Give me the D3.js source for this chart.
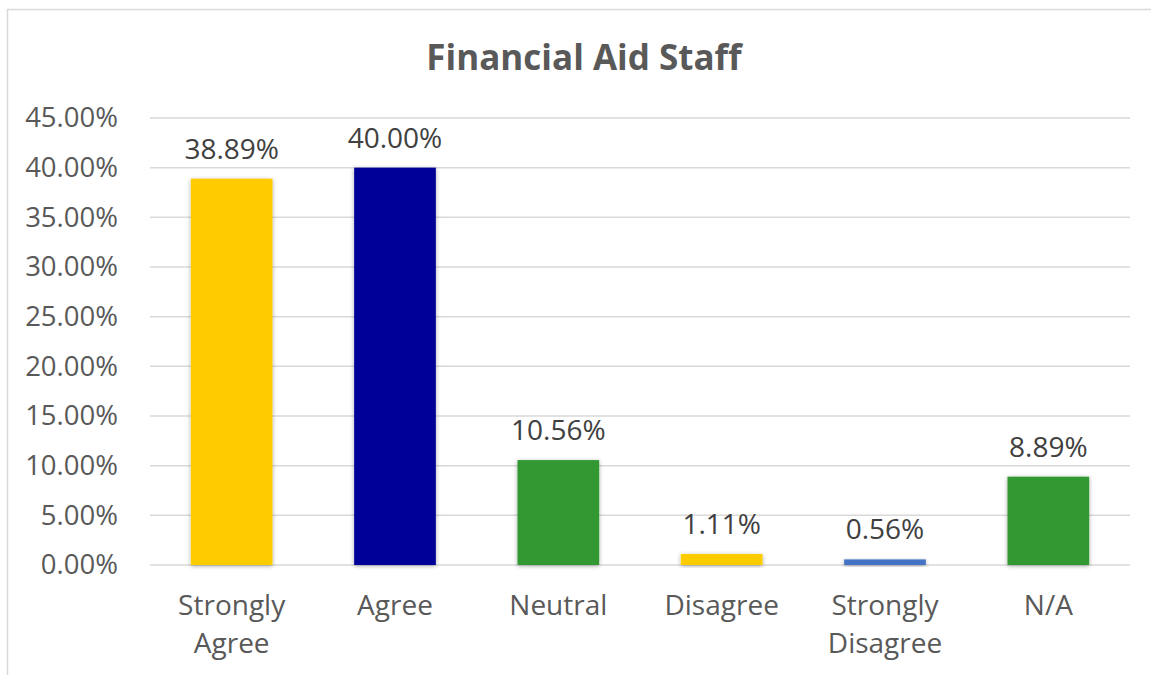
<!DOCTYPE html>
<html>
<head>
<meta charset="utf-8">
<script src="https://cdn.jsdelivr.net/npm/d3@7"></script>
<style>
  html, body { margin: 0; padding: 0; background: #fff; }
  svg { display: block; }
  text { font-family: "Open Sans", "Noto Sans", sans-serif; }
</style>
</head>
<body>
<svg id="chart" width="1151" height="675"></svg>
<script>
const categories = ["Strongly Agree", "Agree", "Neutral", "Disagree", "Strongly Disagree", "N/A"];
const values = [38.89, 40.00, 10.56, 1.11, 0.56, 8.89];
const barColors = ["#FFCC00", "#000099", "#339933", "#FFCC00", "#4472C4", "#339933"];
const yTicks = [0, 5, 10, 15, 20, 25, 30, 35, 40, 45];
const title = "Financial Aid Staff";

const svg = d3.select("#chart");
const W = 1151, H = 675;
const margin = { left: 150, right: 21, top: 118, bottom: 110 };

// frame
svg.append("rect")
  .attr("x", 7.5).attr("y", 9.5)
  .attr("width", W + 10).attr("height", H + 10)
  .attr("fill", "#fff").attr("stroke", "#d9d9d9").attr("stroke-width", 1.5);

const defs = svg.append("defs");
const f = defs.append("filter").attr("id", "shadow")
  .attr("x", "-20%").attr("y", "-20%").attr("width", "140%").attr("height", "140%");
f.append("feDropShadow").attr("dx", 0).attr("dy", 1).attr("stdDeviation", 2)
  .attr("flood-color", "#000").attr("flood-opacity", 0.35);

const x = d3.scaleBand().domain(categories)
  .range([margin.left, W - margin.right]).paddingInner(0.5).paddingOuter(0.25);
const y = d3.scaleLinear().domain([0, 45]).range([H - margin.bottom, margin.top]);

// gridlines
svg.append("g").selectAll("line").data(yTicks).join("line")
  .attr("x1", margin.left).attr("x2", W - margin.right)
  .attr("y1", d => y(d)).attr("y2", d => y(d))
  .attr("stroke", "#d9d9d9").attr("stroke-width", 1.5);

// y axis labels
const yAxis = d3.axisLeft(y).tickValues(yTicks).tickSize(0).tickPadding(0)
  .tickFormat(d => d.toFixed(2) + "%");
const yg = svg.append("g").attr("transform", `translate(${margin.left - 32},0)`).call(yAxis);
yg.select(".domain").remove();
yg.selectAll("text").attr("font-size", 27.5).attr("fill", "#595959")
  .attr("font-family", "'Open Sans', sans-serif");

// bars
svg.append("g").selectAll("rect").data(values).join("rect")
  .attr("x", (d, i) => x(categories[i]))
  .attr("width", x.bandwidth())
  .attr("y", d => y(d))
  .attr("height", d => y(0) - y(d))
  .attr("fill", (d, i) => barColors[i])
  .attr("filter", "url(#shadow)");

// data labels
svg.append("g").selectAll("text").data(values).join("text")
  .attr("x", (d, i) => x(categories[i]) + x.bandwidth() / 2)
  .attr("y", d => y(d) - 20)
  .attr("text-anchor", "middle")
  .attr("font-size", 28).attr("fill", "#404040")
  .text(d => d.toFixed(2) + "%");

// x axis labels
const xAxis = d3.axisBottom(x).tickSize(0).tickPadding(0);
const xg = svg.append("g").attr("transform", `translate(0,${y(0)})`).call(xAxis);
xg.select(".domain").remove();
xg.selectAll("text").each(function(d) {
  const t = d3.select(this);
  t.text(null).attr("y", 0).attr("dy", null)
    .attr("font-size", 28).attr("fill", "#595959")
    .attr("font-family", "'Open Sans', sans-serif");
  const words = d.split(" ");
  const lines = (words.length > 1 && d !== "N/A") ? [words[0], words.slice(1).join(" ")] : [d];
  lines.forEach((ln, k) => {
    t.append("tspan").attr("x", 0).attr("y", 50 + k * 38).text(ln);
  });
});

// title
svg.append("text")
  .attr("x", 584).attr("y", 70)
  .attr("text-anchor", "middle")
  .attr("font-size", 35).attr("font-weight", "bold").attr("fill", "#595959")
  .text(title);
</script>
</body>
</html>
